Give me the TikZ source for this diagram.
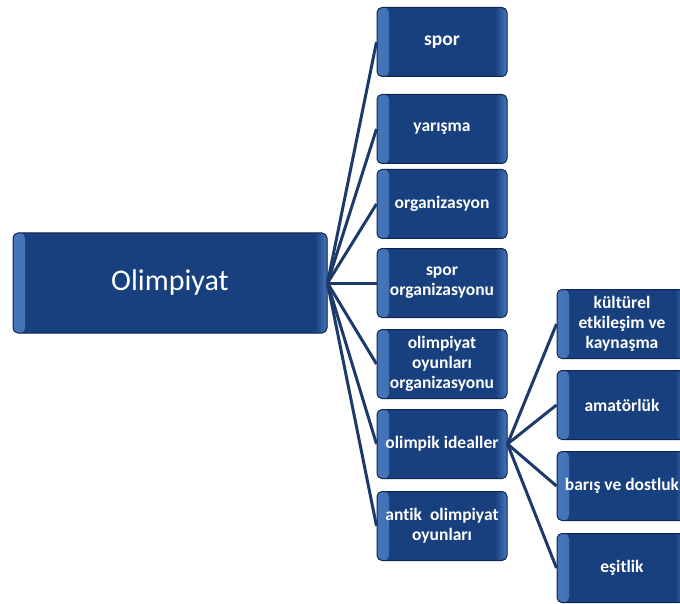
\documentclass[tikz,border=0pt]{standalone}
\usepackage{fontspec}
\setmainfont{Carlito}[Ligatures=NoCommon]
\usetikzlibrary{positioning}

\definecolor{boxmid}{RGB}{24,64,126}
\definecolor{boxlight}{RGB}{70,118,186}
\definecolor{boxline}{RGB}{14,38,80}
\definecolor{linkcol}{RGB}{30,58,106}

\tikzset{
	topic/.style={draw=boxline,line width=1pt,rounded corners=5pt,fill=boxmid,text=white,align=center,
		minimum width=130pt,minimum height=69pt,inner sep=1pt,
		font=\bfseries\fontsize{17.5}{20}\selectfont,
		path picture={
			\shade[left color=boxlight,right color=boxmid] (path picture bounding box.north west) rectangle ([xshift=12pt]path picture bounding box.south west);
			\shade[left color=boxmid,right color=boxlight] ([xshift=-12pt]path picture bounding box.north east) rectangle (path picture bounding box.south east);
		}},
	link/.style={draw=linkcol,line width=3pt}
}

\begin{document}
\begin{tikzpicture}[x=1pt,y=-1pt]
	\useasboundingbox (0,0) rectangle (680,604);
	\node[topic,minimum width=314pt,minimum height=100pt,font=\fontsize{30}{34}\selectfont](root) at (170,283){Olimpiyat};
	
	\node[topic,font=\bfseries\fontsize{19.5}{22}\selectfont](spor) at (442,42){spor};
	\node[topic,below=17pt of spor](yarisma){yarışma};
	\node[topic,below=5pt of yarisma](organizasyon){organizasyon};
	\node[topic,below=9pt of organizasyon](spororg){spor\\organizasyonu};
	\node[topic,below=11pt of spororg](oyunorg){olimpiyat\\oyunları\\organizasyonu};
	\node[topic,below=10pt of oyunorg](idealler){olimpik idealler};
	\node[topic,below=12pt of idealler](antik){antik\ \ olimpiyat\\oyunları};
	
	\node[topic](kultur) at (622,324){kültürel\\etkileşim ve\\kaynaşma};
	\node[topic,below=11pt of kultur](amator){amatörlük};
	\node[topic,below=11pt of amator](baris){barış ve dostluk};
	\node[topic,below=12pt of baris](esitlik){eşitlik};
	
	
	\draw[link] (root.east) -- (spor.west);
	\draw[link] (root.east) -- (yarisma.west);
	\draw[link] (root.east) -- (organizasyon.west);
	\draw[link] (root.east) -- (spororg.west);
	\draw[link] (root.east) -- (oyunorg.west);
	\draw[link] (root.east) -- (idealler.west);
	\draw[link] (root.east) -- (antik.west);
	\draw[link] (idealler.east) -- (kultur.west);
	\draw[link] (idealler.east) -- (amator.west);
	\draw[link] (idealler.east) -- (baris.west);
	\draw[link] (idealler.east) -- (esitlik.west);
\end{tikzpicture}
\end{document}
